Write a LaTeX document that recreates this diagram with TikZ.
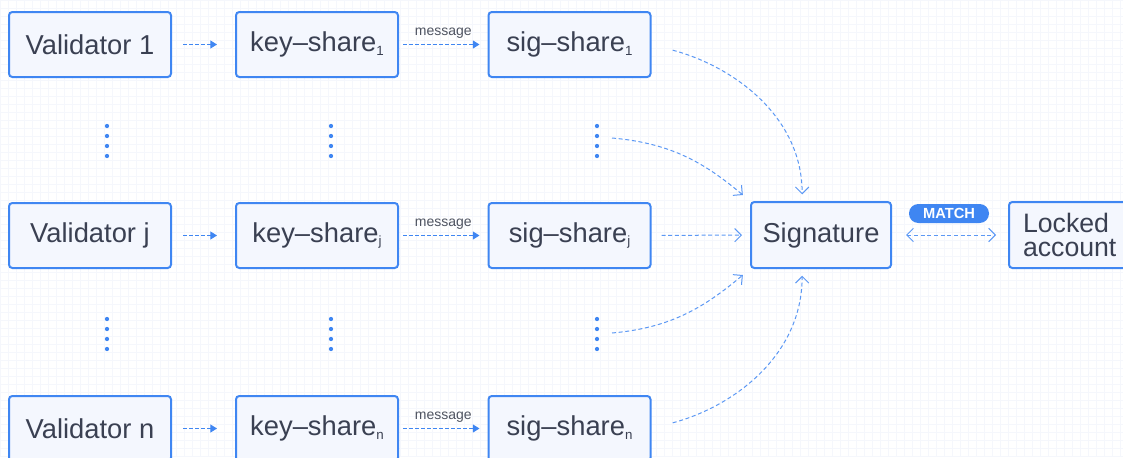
\documentclass[tikz,border=0pt]{standalone}
\usepackage{fontspec}
\setmainfont{Liberation Sans}
\usepackage{tikz}
\usetikzlibrary{arrows.meta}

\definecolor{azul}{HTML}{3F86F2}
\definecolor{fondo}{HTML}{F4F7FE}
\definecolor{texto}{HTML}{3A4052}
\definecolor{rejilla}{HTML}{F5F7FC}
\definecolor{gris}{HTML}{4E5360}

\newcommand\idx[1]{\raisebox{-0.25ex}{\fontsize{10}{10}\selectfont #1}}

\tikzset{
  caja/.style={draw=azul, fill=fondo, line width=1.5pt, rounded corners=2.5pt,
    minimum width=121.5pt, minimum height=48.75pt, inner sep=0pt,
    text=texto, font=\fontsize{20.5}{15}\selectfont},
  flecha/.style={azul, line width=0.75pt, dash pattern=on 3pt off 1.5pt,
    -{Triangle[length=5pt,width=6pt]}},
  curva/.style={azul!85, line width=0.75pt, dash pattern=on 3pt off 2pt,
    -{Straight Barb[length=5pt,width=10pt]}},
  puntos/.style={fill=azul},
}

\begin{document}
\begin{tikzpicture}[x=0.75pt,y=0.75pt]
  \useasboundingbox (0,0) rectangle (1123,-457);
  \draw[rejilla, step=6pt, line width=0.5pt] (0,0) grid (1123,-457);

  % validators
  \draw (90,-44.5) node[caja] (val1) {Validator 1};
  \draw (90,-235.5) node[caja] (valj) {Validator j};
  \draw (90,-428.5) node[caja] (valn) {Validator n};

  % key shares
  \draw (317,-44.5) node[caja] (key1) {key--share\idx{1}};
  \draw (317,-235.5) node[caja] (keyj) {key--share\idx{j}};
  \draw (317,-428.5) node[caja] (keyn) {key--share\idx{n}};

  % signature shares
  \draw (569.5,-44.5) node[caja] (sig1) {sig--share\idx{1}};
  \draw (569.5,-235.5) node[caja] (sigj) {sig--share\idx{j}};
  \draw (569.5,-428.5) node[caja] (sign) {sig--share\idx{n}};

  \draw (821,-235) node[caja, minimum width=105pt, minimum height=49.5pt] (signature) {Signature};
  \draw (1079,-235) node[caja, minimum width=105pt, minimum height=49.5pt,
    align=left, text width=84pt, font=\fontsize{20}{18.5}\selectfont] (locked) {Locked\\account};
  \draw (949,-213.5) node[fill=azul, rounded corners=7pt, minimum width=60pt,
    minimum height=14.25pt, inner sep=0pt, text=white,
    font=\fontsize{11}{11}\selectfont\bfseries] (match) {MATCH};

  % dots
  \foreach \x in {107,331,597}
    \foreach \y in {126,136,146,156,319,329,339,349}
      \fill[puntos] (\x,-\y) circle[radius=1.6pt];
  \coordinate (dotsup) at (612,-138);
  \coordinate (dotsdown) at (612,-333);

  \foreach \r in {1,j,n} {
    \path[flecha, shorten <=8.25pt, shorten >=13.5pt] (val\r) edge (key\r);
    \path[flecha, shorten <=3pt, shorten >=6pt] (key\r) edge
      node[above=1pt, text=gris, font=\fontsize{10.5}{10.5}\selectfont] {message} (sig\r);
  }

  \path[curva, shorten <=16.5pt, shorten >=5pt] (sig1.east) edge[out=-15, in=90] (signature.119);
  \path[curva, shorten >=7pt] (dotsup) edge[out=-5, in=140] (signature.north west);
  \path[curva, shorten <=7.5pt, shorten >=6pt] (sigj) edge (signature);
  \path[curva, shorten >=7pt] (dotsdown) edge[out=5, in=-140] (signature.south west);
  \path[curva, shorten <=16.5pt, shorten >=5pt] (sign.east) edge[out=15, in=-90] (signature.241);

  \path[curva, {Straight Barb[length=5pt,width=10pt]}-{Straight Barb[length=5pt,width=10pt]},
    shorten <=10.5pt, shorten >=9pt] (signature) edge (locked);
\end{tikzpicture}
\end{document}
